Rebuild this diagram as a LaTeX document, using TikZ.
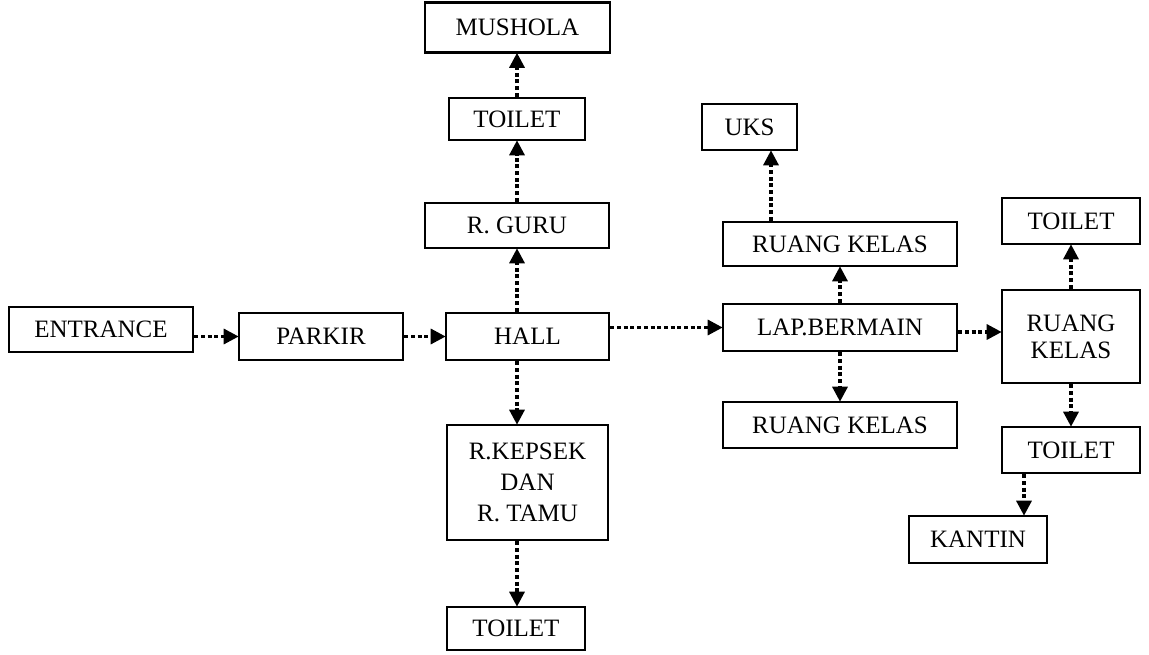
\documentclass[tikz,border=0pt]{standalone}
\usepackage{fontspec}
\setmainfont{Liberation Serif}
\usetikzlibrary{arrows.meta}
\begin{document}
\begin{tikzpicture}[x=1pt,y=-1pt,
  box/.style={draw, line width=2.6pt, inner sep=0pt, align=center,
    font=\fontsize{25}{30}\selectfont},
  arr/.style={line width=3.2pt, dash pattern=on 4pt off 2.7pt,
    -{Triangle[length=15pt,width=15pt]}, shorten >=-1pt}]
\useasboundingbox (0,0) rectangle (1149,654);
% left / centre column
\node[box, minimum width=184pt, minimum height=45pt] (entrance) at (101,329.5) {ENTRANCE};
\node[box, minimum width=164pt, minimum height=47pt] (parkir) at (321,336.5) {PARKIR};
\node[box, minimum width=163pt, minimum height=47pt] (hall) at (527.5,336.5) {HALL};
\node[box, minimum width=184pt, minimum height=45pt] (rguru) at (517,225.5) {R. GURU};
\node[box, minimum width=136pt, minimum height=42pt] (toiletA) at (517,119) {TOILET};
\node[box, minimum width=185pt, minimum height=50pt] (mushola) at (517.5,27.5) {MUSHOLA};
\node[box, minimum width=161pt, minimum height=115pt, font=\fontsize{25}{31}\selectfont] (kepsek) at (527.5,482.5) {R.KEPSEK\\DAN\\R. TAMU};
\node[box, minimum width=138pt, minimum height=43pt] (toiletB) at (516,628.5) {TOILET};
% middle-right column
\node[box, minimum width=234pt, minimum height=47pt] (lap) at (840,327.5) {LAP.BERMAIN};
\node[box, minimum width=234pt, minimum height=44pt] (rkA) at (840,244) {RUANG KELAS};
\node[box, minimum width=234pt, minimum height=46pt] (rkB) at (840,425) {RUANG KELAS};
\node[box, minimum width=95pt, minimum height=46pt] (uks) at (749.5,127) {UKS};
% right column
\node[box, minimum width=138pt, minimum height=93pt, font=\fontsize{25}{27}\selectfont] (rkC) at (1071,336.5) {RUANG\\KELAS};
\node[box, minimum width=138pt, minimum height=46pt] (toiletC) at (1071,221) {TOILET};
\node[box, minimum width=138pt, minimum height=46pt] (toiletD) at (1071,450) {TOILET};
\node[box, minimum width=138pt, minimum height=47pt] (kantin) at (978,539.5) {KANTIN};
% guide coordinates
\coordinate (colx) at (517,0);
\coordinate (ux) at (771,0);
\coordinate (ry) at (0,332);
\coordinate (kx) at (1024,0);
% connectors
\draw[arr] (entrance.east |- parkir.west) -- (parkir.west);
\draw[arr] (parkir.east) -- (hall.west);
\draw[arr] (colx |- hall.north) -- (colx |- rguru.south);
\draw[arr] (colx |- rguru.north) -- (colx |- toiletA.south);
\draw[arr] (colx |- toiletA.north) -- (colx |- mushola.south);
\draw[arr] (colx |- hall.south) -- (colx |- kepsek.north);
\draw[arr] (colx |- kepsek.south) -- (colx |- toiletB.north);
\draw[arr] (hall.east |- lap.west) -- (lap.west);
\draw[arr] (lap.north) -- (rkA.south);
\draw[arr] (lap.south) -- (rkB.north);
\draw[arr] (ux |- rkA.north) -- (ux |- uks.south);
\draw[arr] (lap.east |- ry) -- (rkC.west |- ry);
\draw[arr] (rkC.north) -- (toiletC.south);
\draw[arr] (rkC.south) -- (toiletD.north);
\draw[arr] (kx |- toiletD.south) -- (kx |- kantin.north);
\end{tikzpicture}
\end{document}
